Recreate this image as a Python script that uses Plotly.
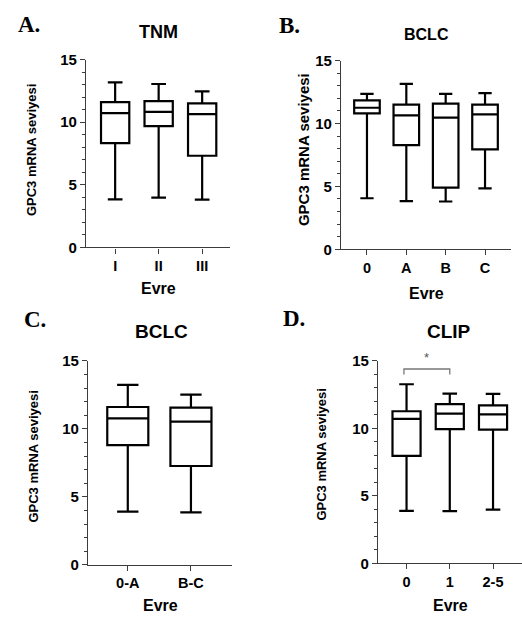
import plotly.graph_objects as go

W, H = 522, 628

# ---- data ----
tnm_cats = ["I", "II", "III"]
tnm_min = [3.84, 3.97, 3.82]
tnm_q1 = [8.33, 9.68, 7.32]
tnm_med = [10.72, 10.82, 10.64]
tnm_q3 = [11.60, 11.68, 11.50]
tnm_max = [13.18, 13.05, 12.46]

bclc_cats = ["0", "A", "B", "C"]
bclc_min = [4.06, 3.83, 3.80, 4.84]
bclc_q1 = [10.81, 8.28, 4.91, 7.94]
bclc_med = [11.25, 10.65, 10.47, 10.73]
bclc_q3 = [11.84, 11.50, 11.58, 11.50]
bclc_max = [12.36, 13.14, 12.36, 12.41]

bclc2_cats = ["0-A", "B-C"]
bclc2_min = [3.91, 3.86]
bclc2_q1 = [8.80, 7.27]
bclc2_med = [10.78, 10.54]
bclc2_q3 = [11.61, 11.57]
bclc2_max = [13.24, 12.52]

clip_cats = ["0", "1", "2-5"]
clip_min = [3.89, 3.87, 3.97]
clip_q1 = [7.96, 9.95, 9.90]
clip_med = [10.70, 11.10, 11.03]
clip_q3 = [11.27, 11.80, 11.71]
clip_max = [13.27, 12.57, 12.55]

sig_pair = [0, 1]
sig_level = 14.4
sig_drop = 0.4

y_ticks = [0, 5, 10, 15]
y_title = "GPC3 mRNA seviyesi"
x_title = "Evre"


def px(x):
    return x / W


def py(y):
    return 1 - y / H


FONT = "Liberation Sans, Arial, sans-serif"
AXC = "#3c3c3c"

panels = [
    dict(key="", cats=tnm_cats, mn=tnm_min, q1=tnm_q1, md=tnm_med, q3=tnm_q3, mx=tnm_max,
         dom_x=(86, 230), dom_y=(52, 245), xr=(-0.67, 2.64), title="TNM", tfs=18, tx=158, ty=24,
         letter="A.", lx=16, ly=16, ytx=31, yty=145, ytfs=13, evx=158, evy=287),
    dict(key="2", cats=bclc_cats, mn=bclc_min, q1=bclc_q1, md=bclc_med, q3=bclc_q3, mx=bclc_max,
         dom_x=(341, 511), dom_y=(53, 247), xr=(-0.66, 3.66), title="BCLC", tfs=16, tx=426, ty=26,
         letter="B.", lx=277, ly=17, ytx=303, yty=145, ytfs=15, evx=426, evy=292),
    dict(key="3", cats=bclc2_cats, mn=bclc2_min, q1=bclc2_q1, md=bclc2_med, q3=bclc2_q3, mx=bclc2_max,
         dom_x=(88, 232), dom_y=(361.7, 571.3), xr=(-0.63, 1.65), title="BCLC", tfs=19, tx=161, ty=331,
         letter="C.", lx=22, ly=319, ytx=34, yty=460, ytfs=13, evx=160, evy=613),
    dict(key="4", cats=clip_cats, mn=clip_min, q1=clip_q1, md=clip_med, q3=clip_q3, mx=clip_max,
         dom_x=(378, 522), dom_y=(361.7, 569.7), xr=(-0.66, 2.67), title="CLIP", tfs=19, tx=449, ty=331,
         letter="D.", lx=281, ly=318, ytx=322, yty=458, ytfs=13, evx=450, evy=613),
]

fig = go.Figure()
layout = dict(
    width=W, height=H, margin=dict(l=0, r=0, t=0, b=0),
    paper_bgcolor="white", plot_bgcolor="white", showlegend=False,
    font=dict(family=FONT, color="black"),
)
annotations = []
shapes = []

for p in panels:
    k = p["key"]
    xa = "x" + k
    ya = "y" + k
    n = len(p["cats"])
    fig.add_trace(go.Box(
        x=list(range(n)), q1=p["q1"], median=p["md"], q3=p["q3"],
        lowerfence=p["mn"], upperfence=p["mx"],
        fillcolor="white", line=dict(color="black", width=2.2),
        width=0.65, whiskerwidth=0.52, boxpoints=False, hoverinfo="skip",
        xaxis=xa, yaxis=ya,
    ))
    layout["xaxis" + k] = dict(
        domain=[max(0, px(p["dom_x"][0])), min(1, px(p["dom_x"][1]))], anchor=ya,
        range=list(p["xr"]), tickvals=list(range(n)), ticktext=p["cats"],
        showline=True, linecolor=AXC, linewidth=1.3, ticks="outside", ticklen=5,
        tickcolor=AXC, tickwidth=1.3, showgrid=False, zeroline=False,
        tickfont=dict(size=14.5, family=FONT, weight="bold", color="black"),
        fixedrange=True,
    )
    layout["yaxis" + k] = dict(
        domain=[py(p["dom_y"][1]), py(p["dom_y"][0])], anchor=xa,
        range=[0, 15], tickvals=y_ticks,
        showline=True, linecolor=AXC, linewidth=1.3, ticks="outside", ticklen=5,
        tickcolor=AXC, tickwidth=1.3, showgrid=False, zeroline=False,
        minor=dict(dtick=1, ticks="outside", ticklen=3, tickcolor=AXC, tickwidth=1, showgrid=False),
        tickfont=dict(size=15, family=FONT, weight="bold", color="black"),
        fixedrange=True,
    )
    annotations.append(dict(text=p["title"], x=px(p["tx"]), y=py(p["ty"]), xref="paper", yref="paper",
                            showarrow=False, xanchor="center", yanchor="middle",
                            font=dict(size=p["tfs"], family=FONT, weight="bold", color="black")))
    annotations.append(dict(text=p["letter"], x=px(p["lx"]), y=py(p["ly"]), xref="paper", yref="paper",
                            showarrow=False, xanchor="left", yanchor="middle",
                            font=dict(size=23, family="Liberation Serif, Times New Roman, serif",
                                      weight="bold", color="black")))
    annotations.append(dict(text=y_title, x=px(p["ytx"]), y=py(p["yty"]), xref="paper", yref="paper",
                            showarrow=False, textangle=-90, xanchor="center", yanchor="middle",
                            font=dict(size=p["ytfs"], family=FONT, weight="bold", color="black")))
    annotations.append(dict(text=x_title, x=px(p["evx"]), y=py(p["evy"]), xref="paper", yref="paper",
                            showarrow=False, xanchor="center", yanchor="middle",
                            font=dict(size=16, family=FONT, weight="bold", color="black")))

# significance bracket on panel D
a, b = sig_pair
shapes.append(dict(type="path", xref="x4", yref="y4",
                   path=f"M {a - 0.06},{sig_level - sig_drop} L {a - 0.06},{sig_level} L {b},{sig_level} L {b},{sig_level - sig_drop}",
                   line=dict(color="#777777", width=1.3)))
annotations.append(dict(text="*", x=(a + b) / 2 - 0.03, y=sig_level + 0.15, xref="x4", yref="y4",
                        showarrow=False, yanchor="bottom",
                        font=dict(size=13, family=FONT, color="#555555")))

layout["annotations"] = annotations
layout["shapes"] = shapes
fig.update_layout(**layout)
fig.write_html(
    "out.html",
    config={"displayModeBar": False},
    post_script="document.body.style.margin='0';document.body.style.padding='0';"
                "document.documentElement.style.overflow='hidden';",
)
